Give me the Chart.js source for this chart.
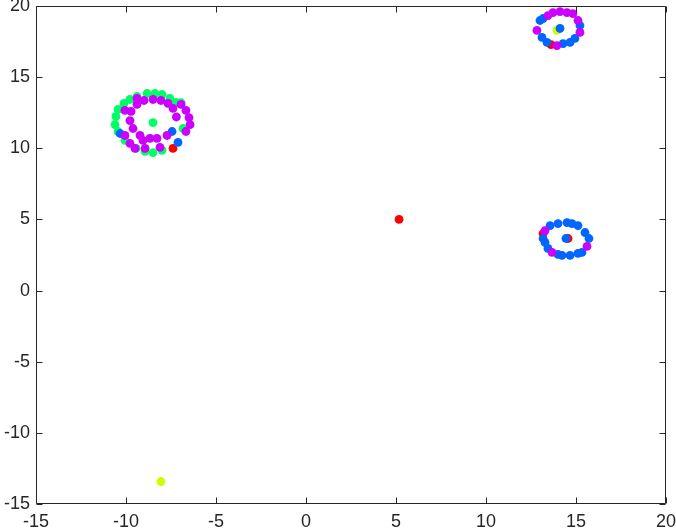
<!DOCTYPE html>
<html>
<head>
<meta charset="utf-8">
<script src="https://cdn.jsdelivr.net/npm/chart.js@4.4.0/dist/chart.umd.min.js"></script>
<style>
html,body{margin:0;padding:0;background:#fff;}
#wrap{width:676px;height:529px;position:relative;}
</style>
</head>
<body>
<div id="wrap"><canvas id="c" width="676" height="529"></canvas></div>
<script>
// ---- data ----
const xTicks = [-15, -10, -5, 0, 5, 10, 15, 20];
const yTicks = [-15, -10, -5, 0, 5, 10, 15, 20];

const redPoints = [
  [5.17, 5.0], [-7.39, 9.99], [13.61, 17.29], [13.17, 4.01], [14.56, 3.66]
];
const yellowPoints = [
  [-8.06, -13.42], [13.94, 18.28]
];
const greenPoints = [
  [-8.5, 11.81],
  [-10.56, 12.24], [-10.61, 11.67], [-10.44, 12.73], [-10.11, 13.15], [-9.78, 13.43],
  [-9.39, 13.64], [-8.83, 13.85], [-8.39, 13.85], [-8.0, 13.78], [-7.56, 13.50],
  [-7.22, 13.22], [-10.44, 11.18], [-10.06, 10.55], [-9.44, 9.99], [-8.94, 9.78],
  [-8.5, 9.70], [-8.0, 9.85], [-6.83, 11.39], [-6.94, 13.2]
];
const bluePoints = [
  [-10.33, 11.04], [-7.44, 11.18], [-7.11, 10.41],
  [13.0, 18.98], [13.11, 17.79], [13.39, 17.44], [14.28, 17.36], [14.67, 17.44],
  [14.94, 17.72], [15.22, 18.63], [13.17, 19.12], [14.11, 18.42],
  [13.17, 3.66], [13.28, 3.38], [13.56, 4.57], [14.0, 4.71], [14.5, 4.78],
  [14.78, 4.71], [15.11, 4.57], [15.5, 4.08], [15.72, 3.66], [15.33, 2.68],
  [15.11, 2.61], [14.67, 2.47], [14.22, 2.47], [14.0, 2.54], [13.44, 2.96],
  [14.44, 3.66]
];
const purplePoints = [
  // inner ring of the large cluster
  [-9.72, 12.59], [-9.39, 13.08], [-9.0, 13.36], [-8.5, 13.43], [-8.06, 13.36],
  [-7.67, 13.15], [-7.39, 12.80], [-7.2, 12.2], [-7.72, 10.90], [-8.28, 10.69],
  [-8.67, 10.69], [-9.06, 10.55], [-9.22, 10.90], [-9.61, 11.39], [-9.78, 11.95],
  // outer ring parts of the large cluster
  [-6.94, 13.08], [-6.67, 12.66], [-6.5, 12.16], [-6.44, 11.67], [-6.67, 11.18],
  [-10.06, 10.90], [-9.78, 10.34], [-9.5, 9.99], [-8.94, 9.99], [-8.11, 10.06],
  [-10.06, 12.66], [-9.39, 13.5],
  // top-right cluster
  [12.83, 18.28], [13.94, 17.22], [15.22, 18.14], [15.11, 18.98], [14.83, 19.47],
  [14.5, 19.54], [14.11, 19.61], [13.72, 19.54], [13.44, 19.33],
  // bottom-right cluster
  [13.28, 4.22], [15.61, 3.10], [13.67, 2.68]
];

const COLORS = {
  red: '#ff0000',
  yellow: '#ccff00',
  green: '#00ff66',
  blue: '#0066ff',
  purple: '#cc00ff'
};
const AXIS_COLOR = '#262626';

function toXY(arr) { return arr.map(p => ({ x: p[0], y: p[1] })); }
function ds(pts, color, order) {
  return {
    data: toXY(pts),
    backgroundColor: color,
    borderWidth: 0,
    pointRadius: 4.4,
    pointHoverRadius: 4.4,
    order: order
  };
}

const boxPlugin = {
  id: 'boxTicks',
  afterDraw(chart) {
    const { ctx, chartArea: a, scales } = chart;
    const L = 6;
    ctx.save();
    ctx.strokeStyle = AXIS_COLOR;
    ctx.lineWidth = 1;
    const l = Math.round(a.left) + 0.5, r = Math.round(a.right) - 0.5;
    const t = Math.round(a.top) + 0.5, b = Math.round(a.bottom) - 0.5;
    ctx.beginPath();
    ctx.rect(l, t, r - l, b - t);
    ctx.stroke();
    ctx.beginPath();
    scales.x.ticks.forEach(tk => {
      const px = Math.round(scales.x.getPixelForValue(tk.value)) + 0.5;
      ctx.moveTo(px, b); ctx.lineTo(px, b - L);
      ctx.moveTo(px, t); ctx.lineTo(px, t + L);
    });
    scales.y.ticks.forEach(tk => {
      const py = Math.round(scales.y.getPixelForValue(tk.value)) + 0.5;
      ctx.moveTo(l, py); ctx.lineTo(l + L, py);
      ctx.moveTo(r, py); ctx.lineTo(r - L, py);
    });
    ctx.stroke();
    ctx.restore();
  }
};

new Chart(document.getElementById('c'), {
  type: 'scatter',
  data: {
    datasets: [
      ds(redPoints, COLORS.red, 4),
      ds(yellowPoints, COLORS.yellow, 3),
      ds(greenPoints, COLORS.green, 2),
      ds(bluePoints, COLORS.blue, 1),
      ds(purplePoints, COLORS.purple, 0)
    ]
  },
  options: {
    responsive: false,
    animation: false,
    devicePixelRatio: 1,
    layout: { padding: { top: 6, right: 10, left: 0, bottom: 0 } },
    plugins: { legend: { display: false }, tooltip: { enabled: false } },
    scales: {
      x: {
        type: 'linear',
        min: -15, max: 20,
        afterBuildTicks(s) { s.ticks = xTicks.map(v => ({ value: v })); },
        afterFit(s) { s.height = 25; s.paddingLeft = 0; s.paddingRight = 0; },
        grid: { display: false, drawTicks: false },
        border: { display: false },
        ticks: {
          color: AXIS_COLOR,
          font: { family: 'Liberation Sans, Arial, sans-serif', size: 18 },
          padding: 7,
          maxRotation: 0,
          autoSkip: false
        }
      },
      y: {
        type: 'linear',
        min: -15, max: 20,
        afterBuildTicks(s) { s.ticks = yTicks.map(v => ({ value: v })); },
        afterFit(s) { s.width = 36; s.paddingTop = 0; s.paddingBottom = 0; },
        grid: { display: false, drawTicks: false },
        border: { display: false },
        ticks: {
          color: AXIS_COLOR,
          font: { family: 'Liberation Sans, Arial, sans-serif', size: 18 },
          padding: 6,
          autoSkip: false
        }
      }
    }
  },
  plugins: [boxPlugin]
});
</script>
</body>
</html>
